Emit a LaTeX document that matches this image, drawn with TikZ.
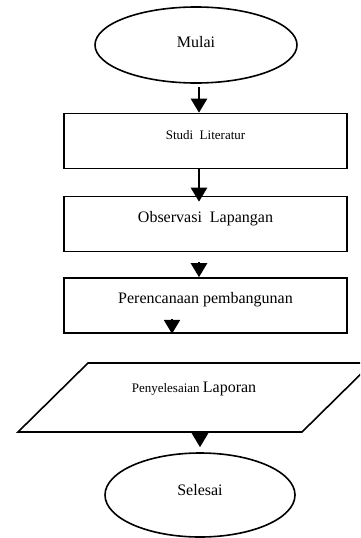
\documentclass[tikz,border=0pt]{standalone}
\usepackage{fontspec}
\setmainfont{Liberation Serif}
\usetikzlibrary{shapes.geometric,arrows.meta}

\begin{document}
\begin{tikzpicture}[x=1pt, y=-1pt,
    shapeline/.style={draw, line width=1.6pt},
    terminal/.style={shapeline, ellipse, inner sep=0pt, text height=11pt, text depth=7pt},
    process/.style={shapeline, rectangle, minimum width=283pt, minimum height=55pt,
      inner sep=0pt, text height=11pt, text depth=15pt},
    flow/.style={-{Triangle[length=14pt, width=16pt]}, line width=2.5pt}]

  \newcommand\bigtxt{\fontsize{16pt}{18pt}\selectfont}
  \newcommand\smalltxt{\fontsize{13pt}{15pt}\selectfont}

  \useasboundingbox (0,0) rectangle (360,538);
  \clip (0,0) rectangle (360,538);

  \coordinate (colA) at (199,0);
  \coordinate (colB) at (172,0);
  \coordinate (colC) at (200,0);

  \node[terminal, minimum width=202pt, minimum height=76pt] (mulai) at (196,45) {\bigtxt Mulai};
  \node[process] (studi) at (205.5,141) {\smalltxt Studi\ \ Literatur};
  \node[process] (obs) at (205.5,224) {\bigtxt Observasi\ \ Lapangan};
  \node[process] (per) at (205.5,305.5) {\bigtxt Perencanaan pembangunan};

  %% parallelogram, its right corner runs off the page
  \draw[shapeline] (18,432) -- (88,363) -- (372,363) -- (302,432) -- cycle;
  \node[anchor=base] (lap) at (194,392) {\smalltxt Penyelesaian \bigtxt Laporan};
  \coordinate (lapbot) at (200,432);

  \node[terminal, minimum width=190pt, minimum height=84pt, text depth=11pt] (selesai) at (200,495) {\bigtxt Selesai\hspace{20pt}};

  \draw[flow, shorten <=3pt] (mulai.south -| colA) -- (studi.north -| colA); %% mulai->studi
  \draw[flow] (studi.south -| colA) -- ([yshift=-6pt]obs.north -| colA); %% studi->obs
  \draw[flow, shorten <=10pt] (obs.south -| colA) -- (per.north -| colA); %% obs->per
  \draw[flow] ([yshift=15pt]per.south -| colB) -- (per.south -| colB);
  \draw[flow] (lapbot) -- ([yshift=5pt]selesai.north -| colC); %% lap->selesai
\end{tikzpicture}
\end{document}
